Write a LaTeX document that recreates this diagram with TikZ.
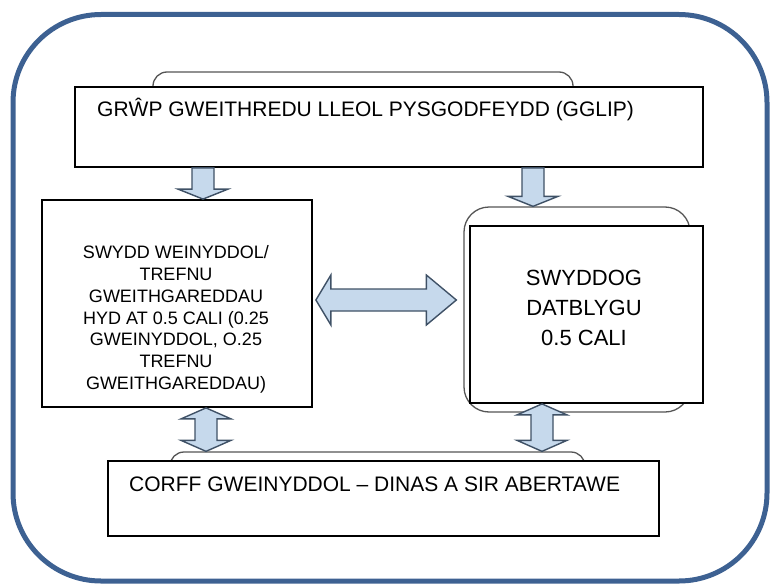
\documentclass[tikz,border=0pt]{standalone}
\usepackage{fontspec}
\setmainfont{Liberation Sans}
\usetikzlibrary{calc}
\definecolor{frameblue}{HTML}{3D6192}
\definecolor{arrfill}{HTML}{C6D9EC}
\definecolor{arrline}{HTML}{3F5166}
\definecolor{backgray}{HTML}{555555}
\tikzset{
 boxnode/.style={draw=black, line width=1.8pt, fill=white, inner sep=0pt},
 backnode/.style={draw=backgray, line width=1.3pt, rounded corners=#1, inner sep=0pt},
 blk/.style={draw=arrline, fill=arrfill, line width=1.4pt, line join=miter},
 txt/.style={inner sep=0pt, text=black}
}
\newcommand\blkdown[2]{%
 \draw[blk] let \p1=#1, \p2=#2 in (\x1-11pt,\y1) -- (\x1-11pt,\y2+10pt) -- (\x1-25pt,\y2+10pt) -- (\x1,\y2) -- (\x1+25pt,\y2+10pt) -- (\x1+11pt,\y2+10pt) -- (\x1+11pt,\y1) -- cycle;}
\newcommand\blkvboth[2]{%
 \draw[blk] let \p1=#1, \p2=#2 in (\x1,\y1) -- (\x1+25pt,\y1-11pt) -- (\x1+11pt,\y1-11pt) -- (\x1+11pt,\y2+11pt) -- (\x1+25pt,\y2+11pt) -- (\x1,\y2) -- (\x1-25pt,\y2+11pt) -- (\x1-11pt,\y2+11pt) -- (\x1-11pt,\y1-11pt) -- (\x1-25pt,\y1-11pt) -- cycle;}
\newcommand\blkhboth[2]{%
 \draw[blk] let \p1=#1, \p2=#2 in (\x1,\y1) -- (\x1+15pt,\y1+25pt) -- (\x1+15pt,\y1+11pt) -- (\x2-30pt,\y1+11pt) -- (\x2-30pt,\y1+25pt) -- (\x2,\y1) -- (\x2-30pt,\y1-25pt) -- (\x2-30pt,\y1-11pt) -- (\x1+15pt,\y1-11pt) -- (\x1+15pt,\y1-25pt) -- cycle;}
\begin{document}
\begin{tikzpicture}[x=1pt,y=-1pt]
\useasboundingbox (0,0) rectangle (771,586);
\draw[frameblue, line width=5pt, rounded corners=88pt] (13,14.5) rectangle (767,581);
% back rounded frames
\node[backnode=14pt, minimum width=420pt, minimum height=60pt] (tback) at (363,102) {};
\node[backnode=25pt, minimum width=226pt, minimum height=205pt] (rback) at (577,309.5) {};
\node[backnode=14pt, minimum width=415pt, minimum height=60pt] (bback) at (377.5,482) {};
% boxes
\node[boxnode, minimum width=628pt, minimum height=80pt] (top) at (389,127) {};
\node[boxnode, minimum width=270pt, minimum height=207pt] (left) at (177,303.5) {};
\node[boxnode, minimum width=233pt, minimum height=177pt] (rbox) at (586.5,314.5) {};
\node[boxnode, minimum width=551pt, minimum height=75pt] (bot) at (383.5,498.5) {};
% texts
\node[txt, anchor=base west, font=\fontsize{21}{25}\selectfont] (toptxt) at (97,116.5) {GRŴP GWEITHREDU LLEOL PYSGODFEYDD (GGLIP)};
\node[txt, anchor=north, align=center, font=\fontsize{18}{21.8}\selectfont] (lefttxt) at (176,245.5) {SWYDD WEINYDDOL/\\TREFNU\\GWEITHGAREDDAU\\HYD AT 0.5 CALI (0.25\\GWEINYDDOL, O.25\\TREFNU\\GWEITHGAREDDAU)};
\node[txt, anchor=north, align=center, font=\fontsize{22}{30}\selectfont] (rtxt) at (584,270) {SWYDDOG\\DATBLYGU\\0.5 CALI};
\node[txt, anchor=base west, font=\fontsize{21}{25}\selectfont] (bottxt) at (129,491.5) {CORFF GWEINYDDOL – DINAS A SIR ABERTAWE};
% arrows
\coordinate (xa) at (203,0);
\coordinate (xb) at (533,0);
\coordinate (xc) at (206,0);
\coordinate (xd) at (542,0);
\coordinate (ym) at (0,300);
\blkdown{(top.south -| xa)}{(left.north -| xa)}
\blkdown{(top.south -| xb)}{(rback.north -| xb)}
\blkvboth{(left.south -| xc)}{(bback.north -| xc)}
\blkvboth{(rbox.south -| xd)}{(bback.north -| xd)}
\blkhboth{($(left.east |- ym)+(3,0)$)}{($(rback.west |- ym)+(-7,0)$)}
\end{tikzpicture}
\end{document}
